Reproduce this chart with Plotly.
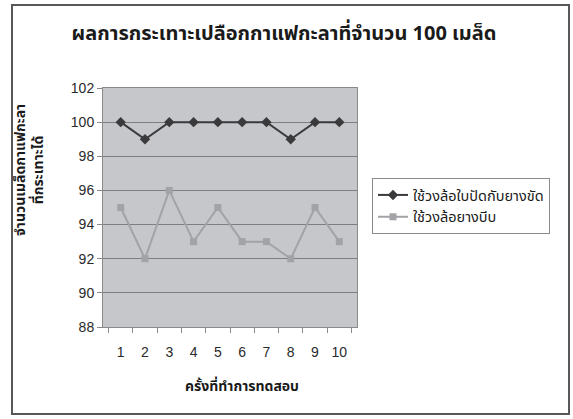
import plotly.graph_objects as go

# Trial number and kernels cracked (out of 100) for each method
trials = [1, 2, 3, 4, 5, 6, 7, 8, 9, 10]
trial_labels = [str(t) for t in trials]
rubber_pad_wheel = [100, 99, 100, 100, 100, 100, 100, 99, 100, 100]
rubber_press_wheel = [95, 92, 96, 93, 95, 93, 93, 92, 95, 93]

series_names = ["ใช้วงล้อใบปัดกับยางขัด", "ใช้วงล้อยางบีบ"]

W, H = 573, 419
L, R, T, B = 103, 357, 88, 327
pw, ph = R - L, B - T

thai_font = "Noto Sans Thai, Liberation Sans, Noto Sans, DejaVu Sans, sans-serif"
tick_font = "Liberation Sans Narrow, Liberation Sans, Arial, sans-serif"


def px_x(x):
    return (x - L) / pw


def px_y(y):
    return (B - y) / ph


fig = go.Figure()
fig.add_trace(go.Scatter(
    x=trial_labels, y=rubber_pad_wheel, name=series_names[0],
    mode="lines+markers",
    line=dict(color="#3a3a3c", width=2),
    marker=dict(symbol="diamond", size=8, color="#3a3a3c"),
))
fig.add_trace(go.Scatter(
    x=trial_labels, y=rubber_press_wheel, name=series_names[1],
    mode="lines+markers",
    line=dict(color="#a2a3a6", width=2),
    marker=dict(symbol="square", size=7, color="#a2a3a6"),
))

# outer chart frame
fig.add_shape(type="rect", xref="paper", yref="paper",
              x0=px_x(12), x1=px_x(569), y0=px_y(414), y1=px_y(5),
              line=dict(color="#58585a", width=2), fillcolor="rgba(0,0,0,0)",
              layer="below")

# axis titles
fig.add_annotation(text="<b>ครั้งที่ทำการทดสอบ</b>", xref="paper", yref="paper",
                   x=px_x(242), y=px_y(386), showarrow=False,
                   xanchor="center", yanchor="middle",
                   font=dict(family=thai_font, size=14, color="#1a1a1a"))
fig.add_annotation(text="<b>จำนวนเมล็ดกาแฟกะลา<br>ที่กระเทาะได้</b>",
                   xref="paper", yref="paper", textangle=-90,
                   x=px_x(29), y=px_y(170), showarrow=False,
                   xanchor="center", yanchor="middle",
                   font=dict(family=thai_font, size=14, color="#1a1a1a"))

fig.update_layout(
    width=W, height=H,
    margin=dict(l=L, r=W - R, t=T, b=H - B),
    paper_bgcolor="white",
    plot_bgcolor="#c6c7ca",
    title=dict(text="<b>ผลการกระเทาะเปลือกกาแฟกะลาที่จำนวน 100 เมล็ด</b>",
               x=px_x(284), xref="paper", xanchor="center",
               y=1 - 33 / H, yanchor="middle",
               font=dict(family=thai_font, size=20, color="#1a1a1a")),
    legend=dict(x=px_x(372), y=px_y(178), xanchor="left", yanchor="top",
                bordercolor="#8a8a8a", borderwidth=1, bgcolor="white",
                font=dict(family=thai_font, size=14.5, color="#1a1a1a"),
                itemwidth=30, tracegroupgap=0),
    showlegend=True,
)

fig.update_xaxes(
    type="category", tickson="boundaries", tickangle=0,
    ticks="outside", ticklen=5, tickcolor="#8a8a8a",
    ticklabelstandoff=12,
    showline=True, linecolor="#8a8a8a", linewidth=1, mirror=True,
    showgrid=False,
    tickfont=dict(family=tick_font, size=14, color="#2a2a2a"),
)
fig.update_yaxes(
    range=[88, 102], dtick=2,
    ticks="outside", ticklen=5, tickcolor="#8a8a8a",
    showline=True, linecolor="#8a8a8a", linewidth=1, mirror=True,
    showgrid=True, gridcolor="#7d7e80", gridwidth=1,
    zeroline=False,
    tickfont=dict(family=tick_font, size=14, color="#2a2a2a"),
)

fig.write_html("out.html")
